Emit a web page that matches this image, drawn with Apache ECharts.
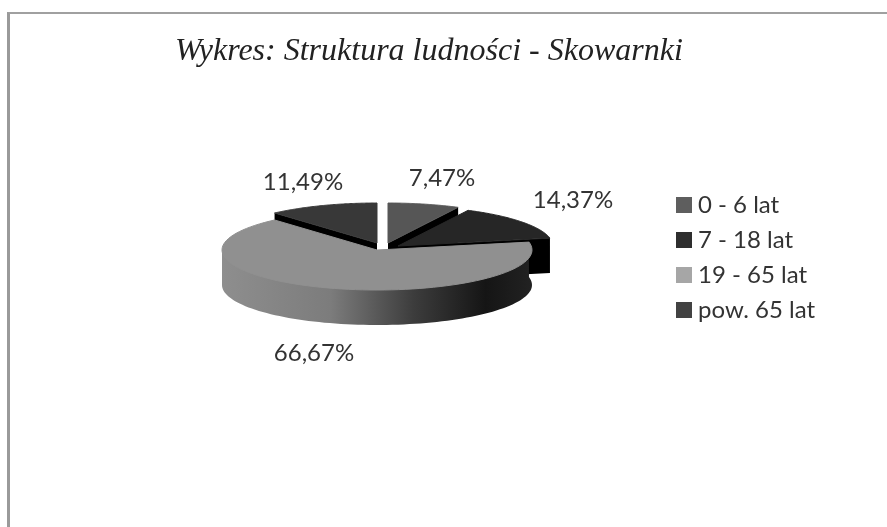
<!DOCTYPE html>
<html>
<head>
<meta charset="utf-8">
<style>
html,body{margin:0;padding:0;background:#fff;}
#frame{position:absolute;left:7px;top:12px;right:0;bottom:0;border-left:3px solid #9a9a9a;border-top:2px solid #a0a0a0;}
#chart{position:absolute;left:0;top:0;width:887px;height:527px;}
</style>
<script src="https://cdn.jsdelivr.net/npm/echarts@6/dist/echarts.min.js"></script>
</head>
<body>
<div id="frame"></div>
<div id="chart"></div>
<script>
var categories = ['0 - 6 lat', '7 - 18 lat', '19 - 65 lat', 'pow. 65 lat'];
var values = [7.47, 14.37, 66.67, 11.49];
var labels = ['7,47%', '14,37%', '66,67%', '11,49%'];

// kolory i polozenie kazdego wycinka
var topColors = ['#565656', '#262626', '#909090', '#383838'];
var legendColors = ['#5e5e5e', '#2e2e2e', '#a6a6a6', '#424242'];
var centers = [[388, 243], [398, 246], [377, 250], [377, 243]];
var labelPos = [[442, 178], [573, 200], [314, 353], [303, 182]];
var drawOrder = [0, 1, 3, 2];

var rx = 155, ry = 40, depth = 35;
var total = values.reduce(function (a, b) { return a + b; }, 0);

function point(c, angle, down) {
    return [c[0] + rx * Math.sin(angle), c[1] - ry * Math.cos(angle) + (down || 0)];
}
function arc(c, from, to, down) {
    var pts = [];
    var n = 90;
    for (var i = 0; i <= n; i++) {
        pts.push(point(c, from + (to - from) * i / n, down));
    }
    return pts;
}

var sideGradient = new echarts.graphic.LinearGradient(0, 0, 1, 0, [
    { offset: 0, color: '#8e8e8e' },
    { offset: 0.35, color: '#7c7c7c' },
    { offset: 0.62, color: '#3c3c3c' },
    { offset: 0.85, color: '#151515' },
    { offset: 1, color: '#222222' }
]);

function renderSlice(index) {
    return function () {
        var start = 0;
        for (var i = 0; i < index; i++) {
            start += values[i];
        }
        var from = start / total * Math.PI * 2;
        var to = (start + values[index]) / total * Math.PI * 2;
        var c = centers[index];
        var children = [];
        var tip = [c[0], c[1]];
        var tipDown = [c[0], c[1] + depth];

        // sciana boczna, duzy wycinek ma luk, reszta tylko przekroj
        if (index === 2) {
            var wall = arc(c, from, Math.PI * 1.5, -1).concat(arc(c, Math.PI * 1.5, from, depth));
            children.push({ type: 'polygon', shape: { points: wall }, style: { fill: sideGradient } });
        } else {
            var end = index === 3 ? from : to;
            children.push({
                type: 'polygon',
                shape: { points: [tip, point(c, end), point(c, end, depth), tipDown] },
                style: { fill: '#000' }
            });
        }
        children.push({
            type: 'polygon',
            shape: { points: [tip].concat(arc(c, from, to)) },
            style: { fill: topColors[index], stroke: topColors[index], lineWidth: 1 }
        });
        children.push({
            type: 'text',
            style: {
                x: labelPos[index][0],
                y: labelPos[index][1],
                text: labels[index],
                fill: '#333',
                font: '24px Lato',
                align: 'center',
                verticalAlign: 'middle'
            }
        });
        return { type: 'group', children: children };
    };
}

var chart = echarts.init(document.getElementById('chart'));
var series = [];
drawOrder.forEach(function (index, order) {
    series.push({
        type: 'custom',
        name: categories[index],
        coordinateSystem: 'none',
        z: 2 + order,
        silent: true,
        animation: false,
        itemStyle: { color: legendColors[index] },
        renderItem: renderSlice(index),
        data: [values[index]]
    });
});

chart.setOption({
    animation: false,
    title: {
        text: 'Wykres: Struktura ludności - Skowarnki',
        left: 170,
        top: 31,
        textStyle: {
            fontFamily: 'Liberation Serif',
            fontStyle: 'italic',
            fontWeight: 'normal',
            fontSize: 32,
            color: '#222'
        }
    },
    legend: {
        data: categories,
        orient: 'vertical',
        left: 671,
        top: 188,
        itemWidth: 16,
        itemHeight: 16,
        itemGap: 11,
        icon: 'rect',
        textStyle: { fontFamily: 'Lato', fontSize: 24, lineHeight: 24, color: '#333', padding: [0, 0, 0, 1] },
        selectedMode: false
    },
    series: series
});
</script>
</body>
</html>
